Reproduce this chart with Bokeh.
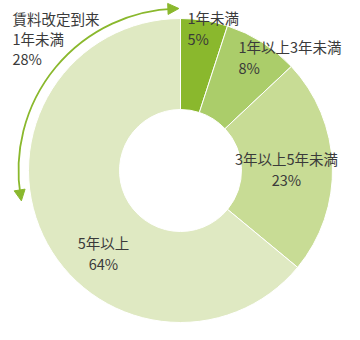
import math
from bokeh.plotting import figure
from bokeh.models import Arrow, NormalHead
from bokeh.core.properties import value
from bokeh.embed import file_html
from bokeh.resources import INLINE

# Share of leases by remaining term (%)
categories = ["1年未満", "1年以上3年未満", "3年以上5年未満", "5年以上"]
shares = [5, 8, 23, 64]
colors = ["#8ab82d", "#abcd6a", "#c8dc95", "#dfe9c2"]

# Leases whose rent revision falls within one year (%)
revision_title = ["賃料改定到来", "1年未満"]
revision_share = 28

W, H = 360, 340
CX, CY = 180, 170
R_IN, R_OUT = 61, 152
R_ARC = 162
FONT = value("Noto Sans CJK JP")
FSIZE = "14.5px"
TXT = "#3a3a3a"

p = figure(width=W, height=H, x_range=(0, W), y_range=(0, H),
           output_backend="svg", toolbar_location=None, min_border=0)
p.axis.visible = False
p.grid.visible = False
p.outline_line_color = None
p.background_fill_color = "white"

# Donut slices, clockwise from 12 o'clock
cum = 0
starts, ends = [], []
for s in shares:
    starts.append(math.radians(90 - cum * 3.6))
    cum += s
    ends.append(math.radians(90 - cum * 3.6))
p.annular_wedge(x=CX, y=CY, inner_radius=R_IN, outer_radius=R_OUT,
                start_angle=starts, end_angle=ends, direction="clock",
                fill_color=colors, line_color="white", line_width=1)

# Curved double-headed arrow spanning the rent-revision share
a0 = math.radians(90)
a1 = math.radians(90 + revision_share * 3.6)
arc_col = "#8ab82d"
p.arc(x=CX, y=CY, radius=R_ARC, start_angle=a0 + 0.03, end_angle=a1 - 0.03,
      direction="anticlock", line_color=arc_col, line_width=1.8)


def pt(a):
    return CX + R_ARC * math.cos(a), CY + R_ARC * math.sin(a)


for tip, back in ((a0 + 0.01, a0 + 0.07), (a1, a1 - 0.06)):
    xs, ys = pt(back)
    xe, ye = pt(tip)
    p.add_layout(Arrow(x_start=xs, y_start=ys, x_end=xe, y_end=ye,
                       line_color=arc_col, line_width=1.8,
                       end=NormalHead(size=11, fill_color=arc_col,
                                      line_color=arc_col)))

# Slice labels: (x, top-line y, alignment)
anchors = [(187, 323, "left"), (238, 294, "left"),
           (286, 182, "center"), (103, 98, "center")]
for (lx, ly, al), name, s in zip(anchors, categories, shares):
    p.text(x=[lx, lx], y=[ly, ly - 21], text=[name, f"{s}%"],
           text_font=FONT, text_font_size=FSIZE, text_color=TXT,
           text_align=al, text_baseline="middle")

# Arrow caption
cap = revision_title + [f"{revision_share}%"]
p.text(x=[12] * 3, y=[322, 302, 282], text=cap,
       text_font=FONT, text_font_size=FSIZE, text_color=TXT,
       text_align="left", text_baseline="middle")

open("out.html", "w").write(file_html(p, INLINE))
